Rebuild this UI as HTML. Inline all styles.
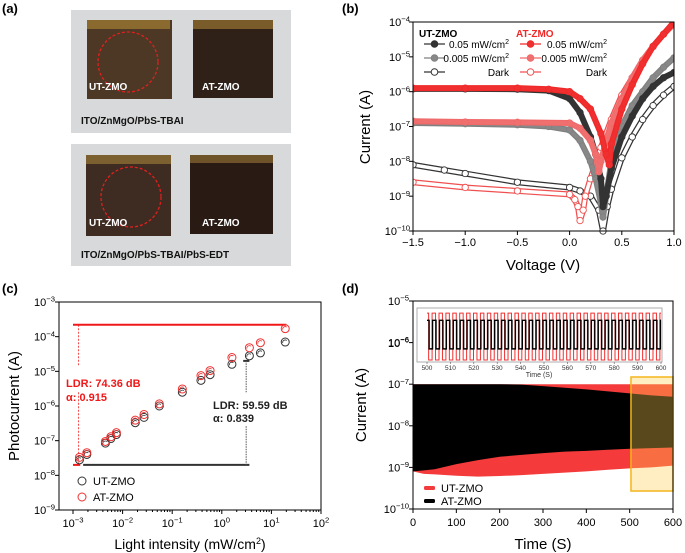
<!DOCTYPE html>
<html><head><meta charset="utf-8"><style>
body{margin:0;background:#fff;}
svg{display:block;font-family:"Liberation Sans",sans-serif;}
</style></head><body>
<svg id="fig" width="685" height="553" viewBox="0 0 685 553" xmlns="http://www.w3.org/2000/svg">
<!-- Panel a -->
<g>
<text x="2" y="13" font-size="13" font-weight="bold">(a)</text>
<rect x="71" y="10" width="220" height="123" fill="#d8d9da"/>
<rect x="87" y="20" width="85" height="79" fill="#4d3825"/>
<rect x="87" y="20" width="83" height="9" fill="#8a6a2e"/>
<rect x="193" y="20" width="80" height="78" fill="#2f2018"/>
<rect x="193" y="20" width="80" height="9" fill="#7a5c2a"/>
<circle cx="128" cy="62" r="30" fill="none" stroke="#e0201e" stroke-width="1.3" stroke-dasharray="3,2"/>
<text x="89" y="90" font-size="10" font-weight="bold" fill="#fff">UT-ZMO</text>
<text x="202" y="90" font-size="10" font-weight="bold" fill="#fff">AT-ZMO</text>
<text x="81" y="124" font-size="10" font-weight="bold" fill="#111">ITO/ZnMgO/PbS-TBAI</text>
<rect x="71" y="144" width="220" height="122" fill="#d8d9da"/>
<rect x="86" y="155" width="85" height="81" fill="#3e2c22"/>
<rect x="86" y="155" width="85" height="9" fill="#7d6030"/>
<rect x="190" y="155" width="83" height="79" fill="#2a1a14"/>
<rect x="190" y="155" width="83" height="8" fill="#6e5228"/>
<circle cx="131" cy="197" r="30" fill="none" stroke="#e0201e" stroke-width="1.3" stroke-dasharray="3,2"/>
<text x="89" y="226" font-size="10" font-weight="bold" fill="#fff">UT-ZMO</text>
<text x="202" y="226" font-size="10" font-weight="bold" fill="#fff">AT-ZMO</text>
<text x="81" y="258" font-size="10" font-weight="bold" fill="#111">ITO/ZnMgO/PbS-TBAI/PbS-EDT</text>
</g>
<g id="pb"></g>
<g id="pc"></g>
<g id="pd"></g>
</svg>
<script>
// ---------- Panel b data ----------
const bUT05V=[-1.5,-1.0,-0.5,-0.2,0,0.1,0.2,0.25,0.3,0.32,0.35,0.4,0.5,0.6,0.7,0.8,0.9,1.0];
const bUT05L=[-5.92,-5.92,-5.93,-5.97,-6.2,-6.6,-7.3,-7.8,-8.5,-9.3,-9.0,-8.2,-7.3,-6.7,-6.2,-5.85,-5.6,-5.45];
const bUT005V=[-1.5,-1.0,-0.5,-0.2,0,0.1,0.2,0.25,0.3,0.32,0.35,0.4,0.5,0.6,0.7,0.8,0.9,1.0];
const bUT005L=[-6.9,-6.92,-6.95,-7.0,-7.1,-7.4,-8.0,-8.5,-9.2,-9.6,-9.0,-8.0,-7.0,-6.4,-6.0,-5.6,-5.3,-5.03];
const bUTdV=[-1.5,-1.2,-1.0,-0.5,0,0.1,0.2,0.28,0.32,0.36,0.4,0.5,0.6,0.7,0.8,0.9,1.0];
const bUTdL=[-8.1,-8.25,-8.35,-8.6,-8.75,-8.85,-9.0,-9.4,-10,-9.3,-8.8,-7.9,-7.3,-6.8,-6.4,-6.1,-5.85];
const bAT05V=[-1.5,-1.0,-0.5,-0.2,0,0.1,0.2,0.3,0.35,0.38,0.4,0.5,0.6,0.7,0.8,0.9,1.0];
const bAT05L=[-5.9,-5.9,-5.9,-5.93,-6.0,-6.2,-6.5,-7.2,-7.8,-8.1,-7.5,-6.5,-5.8,-5.2,-4.7,-4.35,-4.0];
const bAT005V=[-1.5,-1.0,-0.5,0,0.1,0.2,0.25,0.28,0.3,0.35,0.4,0.5,0.6,0.7,0.8,0.9,1.0];
const bAT005L=[-6.85,-6.87,-6.88,-6.9,-7.05,-7.4,-7.8,-8.3,-8.0,-7.4,-6.9,-6.2,-5.6,-5.1,-4.7,-4.35,-4.02];
const bATdV=[-1.5,-1.0,-0.5,0,0.05,0.08,0.1,0.13,0.15,0.2,0.3,0.4,0.5,0.6,0.7,0.8,0.9,1.0];
const bATdL=[-8.6,-8.75,-8.85,-8.95,-9.1,-9.3,-9.7,-9.4,-9.0,-8.5,-7.6,-6.8,-6.1,-5.6,-5.1,-4.7,-4.35,-4.05];
const bXTicks=[-1.5,-1.0,-0.5,0.0,0.5,1.0];
const bYTicks=[-10,-9,-8,-7,-6,-5,-4];
// ---------- Panel c data ----------
const cIntensity=[0.00135,0.0019,0.0045,0.0058,0.0075,0.018,0.027,0.055,0.16,0.38,0.58,1.6,3.6,6,19];
const cUT=[2.8e-8,4e-8,8.5e-8,1.15e-7,1.5e-7,3.3e-7,4.7e-7,1e-6,2.5e-6,5.5e-6,8e-6,1.6e-5,2.8e-5,3.4e-5,7e-5];
const cAT=[3.3e-8,4.5e-8,9.5e-8,1.3e-7,1.7e-7,3.9e-7,5.7e-7,1.15e-6,3.1e-6,7.5e-6,1.05e-5,2.5e-5,4.8e-5,6.7e-5,1.7e-4];
const cXTicks=[-3,-2,-1,0,1,2];
const cYTicks=[-9,-8,-7,-6,-5,-4,-3];
// ---------- Panel d data ----------
const dT=[0,25,50,100,150,200,250,300,350,400,450,500,550,600];
const dBlackTop=[1e-7,1e-7,1e-7,1e-7,1e-7,1e-7,9.8e-8,9e-8,8.2e-8,7.5e-8,6.7e-8,6e-8,5.4e-8,5e-8];
const dBlackBot=[8e-10,8.5e-10,9e-10,1.2e-9,1.5e-9,1.8e-9,2e-9,2.2e-9,2.4e-9,2.5e-9,2.65e-9,2.8e-9,2.9e-9,3e-9];
const dRedTop=[1e-7,1e-7,1e-7,1e-7,1e-7,1e-7,1e-7,1e-7,1e-7,1e-7,1e-7,1e-7,1e-7,1e-7];
const dRedBot=[8e-10,7e-10,6.8e-10,6.3e-10,6e-10,6.2e-10,6.5e-10,7e-10,7.5e-10,8e-10,8.8e-10,9.5e-10,1e-9,1.1e-9];
const dXTicks=[0,100,200,300,400,500,600];
const dYTicks=[-10,-9,-8,-7,-6,-5];
const insetRed=[4.6e-6,4.2e-7];
const insetBlack=[3.2e-6,7.4e-7];
const insetPeriod=[2.95];
const insetXTicks=[500,510,520,530,540,550,560,570,580,590,600];

const NS='http://www.w3.org/2000/svg';
function mk(parent,tag,attrs,text){const e=document.createElementNS(NS,tag);for(const k in attrs)e.setAttribute(k,attrs[k]);if(text!==undefined)e.textContent=text;parent.appendChild(e);return e;}
function powLabel(parent,x,y,exp,fs,anchor){const t=mk(parent,'text',{x:x,y:y,'font-size':fs,'text-anchor':anchor});
 const a=document.createElementNS(NS,'tspan');a.textContent='10';t.appendChild(a);
 const b=document.createElementNS(NS,'tspan');b.setAttribute('dy',-fs*0.4);b.setAttribute('font-size',fs*0.7);b.textContent=String(exp).replace('-','\u2212');t.appendChild(b);return t;}

// ================= Panel b =================
(function(){
const g=document.getElementById('pb');
const X0=413,X1=674,Y0=22,Y1=231;
const xs=v=>X0+(v+1.5)/2.5*(X1-X0);
const ys=l=>Y0+(-4-l)/6*(Y1-Y0);
let t=mk(g,'text',{x:342,y:13,'font-size':13,'font-weight':'bold'},'(b)');


const series=[
 [bUTdV,bUTdL,'#333','#fff','ut-dark'],
 [bATdV,bATdL,'#f05050','#fff','at-dark'],
 [bUT005V,bUT005L,'#808080','#888','ut-0005'],
 [bUT05V,bUT05L,'#333','#333','ut-005'],
 [bAT005V,bAT005L,'#f06a6a','#f07070','at-0005'],
 [bAT05V,bAT05L,'#f02828','#f03030','at-005']];
const clip=mk(g,'clipPath',{id:'cb'});mk(clip,'rect',{x:X0,y:Y0,width:X1-X0,height:Y1-Y0+4});
const pg=mk(g,'g',{'clip-path':'url(#cb)'});
series.forEach(s=>{
 const pts=s[0].map((v,i)=>xs(v)+','+ys(s[1][i])).join(' ');
 const pl=mk(pg,'polyline',{points:pts,fill:'none',stroke:s[2],'stroke-width':6,'stroke-linejoin':'round'});
 
 
 mk(pg,'polyline',{points:pts,fill:'none',stroke:s[3],'stroke-width':3.5,'stroke-linejoin':'round'});
 s[0].forEach((v,i)=>{const c=mk(pg,'circle',{cx:xs(v),cy:ys(s[1][i]),r:3.2,fill:s[3],stroke:s[2],'stroke-width':0.9});
  
  });
});
const fr=mk(g,'rect',{x:X0,y:Y0,width:X1-X0,height:Y1-Y0,fill:'none',stroke:'#000','stroke-width':1});


bXTicks.forEach(v=>{mk(g,'line',{x1:xs(v),x2:xs(v),y1:Y1,y2:Y1+4,stroke:'#000'});
 const l=mk(g,'text',{x:xs(v),y:Y1+15,'font-size':11,'text-anchor':'middle'},v.toFixed(1).replace('-','\u2212'));
 
 });
bYTicks.forEach(e=>{mk(g,'line',{x1:X0-4,x2:X0,y1:ys(e),y2:ys(e),stroke:'#000'});
 const l=powLabel(g,X0-3,ys(e)+4,e,11,'end');
 
 });
t=mk(g,'text',{x:543,y:270,'font-size':15,'text-anchor':'middle'},'Voltage (V)');


t=mk(g,'text',{x:0,y:0,'font-size':15,'text-anchor':'middle',transform:'translate(370,127) rotate(-90)'},'Current (A)');


// legend
t=mk(g,'text',{x:419,y:37,'font-size':10,'font-weight':'bold'},'UT-ZMO');


t=mk(g,'text',{x:516,y:37,'font-size':10,'font-weight':'bold',fill:'#f02828'},'AT-ZMO');


const leg=[[424,509,44,'#333','#333','0.05 mW/cm','2'],[424,509,58,'#808080','#888','0.005 mW/cm','2'],[424,509,72,'#333','#fff','Dark',''],
 [520,607,44,'#f02828','#f03030','0.05 mW/cm','2'],[520,607,58,'#f06a6a','#f07070','0.005 mW/cm','2'],[520,607,72,'#f05050','#fff','Dark','']];
leg.forEach(L=>{const lg=mk(g,'g',{});
 
 
 mk(lg,'line',{x1:L[0],x2:L[0]+21,y1:L[2],y2:L[2],stroke:L[3],'stroke-width':1.2});
 mk(lg,'circle',{cx:L[0]+10.5,cy:L[2],r:3.3,fill:L[4],stroke:L[3],'stroke-width':1});
 const tx=mk(lg,'text',{x:L[1],y:L[2]+4,'font-size':10,'text-anchor':'end'});
 const a=document.createElementNS(NS,'tspan');a.textContent=L[5];tx.appendChild(a);
 if(L[6]){const b=document.createElementNS(NS,'tspan');b.setAttribute('dy',-4);b.setAttribute('font-size',7);b.textContent=L[6];tx.appendChild(b);}
});
})();

// ================= Panel c =================
(function(){
const g=document.getElementById('pc');
const X0=59,X1=321,Y0=302,Y1=510;
const xs=v=>73+(Math.log10(v)+3)*49.6;
const ys=v=>Y0+(-3-Math.log10(v))*(Y1-Y0)/6;
let t=mk(g,'text',{x:2,y:293,'font-size':13,'font-weight':'bold'},'(c)');


const fr=mk(g,'rect',{x:X0,y:Y0,width:X1-X0,height:Y1-Y0,fill:'none',stroke:'#000'});


cXTicks.forEach(e=>{const x=73+(e+3)*49.6;mk(g,'line',{x1:x,x2:x,y1:Y1,y2:Y1+4,stroke:'#000'});
 for(let k=2;k<10&&e<2;k++){const xm=x+Math.log10(k)*49.6;mk(g,'line',{x1:xm,x2:xm,y1:Y1,y2:Y1+2,stroke:'#000'});}
 const l=powLabel(g,x,Y1+17,e,11,'middle');
 
 });
cYTicks.forEach(e=>{const y=ys(Math.pow(10,e));mk(g,'line',{x1:X0-4,x2:X0,y1:y,y2:y,stroke:'#000'});
 const l=powLabel(g,X0-4,y+4,e,11,'end');
 
 });
// LDR lines
let ln=mk(g,'line',{x1:xs(0.001),x2:xs(20),y1:ys(2.2e-4),y2:ys(2.2e-4),stroke:'#f01818','stroke-width':2});


ln=mk(g,'line',{x1:xs(0.001),x2:xs(0.0014),y1:ys(2e-8),y2:ys(2e-8),stroke:'#f01818','stroke-width':2});


ln=mk(g,'line',{x1:xs(0.0016),x2:xs(3.6),y1:ys(2e-8),y2:ys(2e-8),stroke:'#333','stroke-width':2});


ln=mk(g,'line',{x1:xs(2.7),x2:xs(3.6),y1:ys(2e-5),y2:ys(2e-5),stroke:'#333','stroke-width':2});


mk(g,'line',{x1:xs(0.0013),x2:xs(0.0013),y1:ys(2.2e-4),y2:ys(1.5e-5),stroke:'#f01818','stroke-width':0.8,'stroke-dasharray':'2,1.5'});
mk(g,'line',{x1:xs(0.0013),x2:xs(0.0013),y1:ys(2.5e-6),y2:ys(2e-8),stroke:'#f01818','stroke-width':0.8,'stroke-dasharray':'2,1.5'});
mk(g,'line',{x1:xs(3.1),x2:xs(3.1),y1:ys(2e-5),y2:ys(2.5e-6),stroke:'#555','stroke-width':1,'stroke-dasharray':'1.5,1'});
mk(g,'line',{x1:xs(3.1),x2:xs(3.1),y1:ys(2.6e-7),y2:ys(2e-8),stroke:'#555','stroke-width':1,'stroke-dasharray':'1.5,1'});
[[cUT,'#333','ut'],[cAT,'#f03030','at']].forEach(s=>{
 cIntensity.forEach((v,i)=>{const c=mk(g,'circle',{cx:xs(v),cy:ys(s[0][i]),r:4,fill:'none',stroke:s[1],'stroke-width':1});
  
  
  mk(g,'path',{d:`M${xs(v)-2.5},${ys(s[0][i])+1} a2.5,2.5 0 0 1 4,-2.5`,fill:'none',stroke:s[1],'stroke-width':0.8});});
});
t=mk(g,'text',{x:66,y:387,'font-size':11,'font-weight':'bold',fill:'#f01818'},'LDR: 74.36 dB');


t=mk(g,'text',{x:66,y:401,'font-size':11,'font-weight':'bold',fill:'#f01818'},'α: 0.915');


t=mk(g,'text',{x:213,y:409,'font-size':11,'font-weight':'bold',fill:'#222'},'LDR: 59.59 dB');


t=mk(g,'text',{x:213,y:422,'font-size':11,'font-weight':'bold',fill:'#222'},'α: 0.839');


[[481,'#333','UT-ZMO'],[497,'#f03030','AT-ZMO']].forEach(L=>{const lg=mk(g,'g',{});
 
 
 mk(lg,'circle',{cx:82,cy:L[0],r:4,fill:'none',stroke:L[1]});
 mk(lg,'text',{x:93,y:L[0]+4,'font-size':11},L[2]);});
t=mk(g,'text',{x:190,y:549,'font-size':14,'text-anchor':'middle'});
t.innerHTML='Light intensity (mW/cm<tspan dy="-5" font-size="9">2</tspan><tspan dy="5">)</tspan>';


t=mk(g,'text',{x:0,y:0,'font-size':15,'text-anchor':'middle',transform:'translate(19,406) rotate(-90)'},'Photocurrent (A)');


})();

// ================= Panel d =================
(function(){
const g=document.getElementById('pd');
const X0=413,X1=673,Y0=301,Y1=509;
const xs=v=>X0+v/600*(X1-X0);
const ys=v=>Y0+(-5-Math.log10(v))*(Y1-Y0)/5;
let t=mk(g,'text',{x:342,y:293,'font-size':13,'font-weight':'bold'},'(d)');


function band(top,bot,col,name){const pts=dT.map((v,i)=>xs(v)+','+ys(top[i])).concat(dT.slice().reverse().map((v,j)=>xs(v)+','+ys(bot[dT.length-1-j])));
 const p=mk(g,'polygon',{points:pts.join(' '),fill:col});
 
 }
band(dRedTop,dRedBot,'#f43a3a','current-band-ut');
band(dBlackTop,dBlackBot,'#000','current-band-at');
const yr=mk(g,'rect',{x:xs(503),y:377,width:xs(600)-xs(503),height:114,fill:'rgba(255,205,80,0.35)',stroke:'#f3b51a','stroke-width':1.5});


const fr=mk(g,'rect',{x:X0,y:Y0,width:X1-X0,height:Y1-Y0,fill:'none',stroke:'#000'});


dXTicks.forEach(v=>{mk(g,'line',{x1:xs(v),x2:xs(v),y1:Y1,y2:Y1+4,stroke:'#000'});
 const l=mk(g,'text',{x:xs(v),y:Y1+17,'font-size':11,'text-anchor':'middle'},String(v));
 
 });
dYTicks.forEach(e=>{const y=ys(Math.pow(10,e));mk(g,'line',{x1:X0-4,x2:X0,y1:y,y2:y,stroke:'#000'});
 const l=powLabel(g,X0-4,y+4,e,11,'end');
 
 });
// inset
const IX0=427,IX1=661,IY0=308,IY1=362;
const ix=v=>IX0+(v-500)/100*(IX1-IX0);
const iy=v=>343-(Math.log10(v)+6)*45;
const ib=mk(g,'rect',{x:417,y:IY0,width:662-417,height:IY1-IY0,fill:'#fff',stroke:'#999','stroke-width':0.8});


function sq(vals,col,w,off,name){let d='';let tt=500+off;let hi=true;d='M'+ix(500)+','+iy(vals[0]);
 const half=insetPeriod[0]/2;
 while(tt<600){d+=' L'+ix(tt)+','+iy(vals[hi?0:1]);hi=!hi;d+=' L'+ix(tt)+','+iy(vals[hi?0:1]);tt+=half;}
 d+=' L'+ix(600)+','+iy(vals[hi?0:1]);
 const p=mk(g,'path',{d:d,fill:'none',stroke:col,'stroke-width':w});
 
 }
sq(insetRed,'#f03030',1,0.7,'inset-series-ut');
sq(insetBlack,'#000',1.4,0.9,'inset-series-at');
insetXTicks.forEach(v=>{mk(g,'line',{x1:ix(v),x2:ix(v),y1:IY1,y2:IY1+2,stroke:'#555','stroke-width':0.6});
 const l=mk(g,'text',{x:ix(v),y:IY1+8,'font-size':6.5,'text-anchor':'middle',fill:'#333'},String(v));
 
 });
t=mk(g,'text',{x:539,y:377,'font-size':7,'text-anchor':'middle',fill:'#333'},'Time (S)');


t=powLabel(g,409,347,-6,11,'end');


[[488,'#f43a3a','UT-ZMO'],[501,'#000','AT-ZMO']].forEach(L=>{const lg=mk(g,'g',{});
 
 
 mk(lg,'rect',{x:424,y:L[0]-2,width:11,height:4,fill:L[1],rx:1.5});
 mk(lg,'text',{x:441,y:L[0]+4,'font-size':11},L[2]);});
t=mk(g,'text',{x:543,y:549,'font-size':15,'text-anchor':'middle'},'Time (S)');


t=mk(g,'text',{x:0,y:0,'font-size':15,'text-anchor':'middle',transform:'translate(366,405) rotate(-90)'},'Current (A)');


})();
</script>
</body></html>
